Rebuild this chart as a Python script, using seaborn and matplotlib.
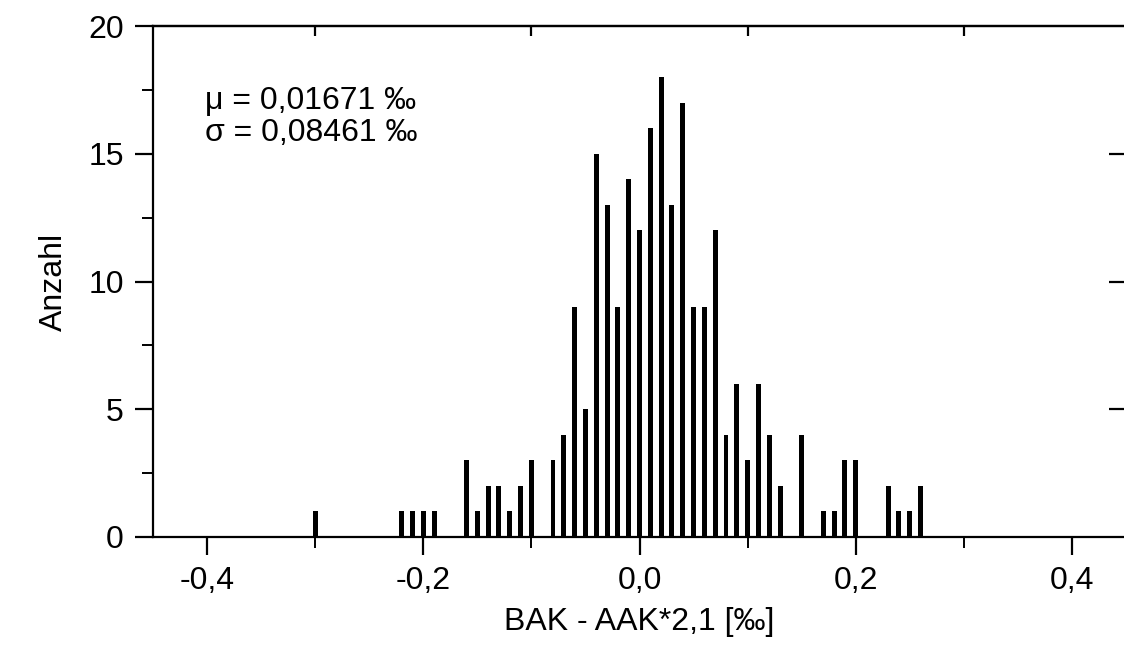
import matplotlib
matplotlib.use("Agg")
import matplotlib.pyplot as plt
import seaborn as sns
import numpy as np

# Bin centres (BAK - AAK*2,1 in ‰) and counts per bin
centers = [-0.30, -0.22, -0.21, -0.20, -0.19, -0.16, -0.15, -0.14, -0.13, -0.12,
           -0.11, -0.10, -0.08, -0.07, -0.06, -0.05, -0.04, -0.03, -0.02, -0.01,
           0.00, 0.01, 0.02, 0.03, 0.04, 0.05, 0.06, 0.07, 0.08, 0.09,
           0.10, 0.11, 0.12, 0.13, 0.15, 0.17, 0.18, 0.19, 0.20, 0.23,
           0.24, 0.25, 0.26]
counts = [1, 1, 1, 1, 1, 3, 1, 2, 2, 1,
          2, 3, 3, 4, 9, 5, 15, 13, 9, 14,
          12, 16, 18, 13, 17, 9, 9, 12, 4, 6,
          3, 6, 4, 2, 4, 1, 1, 3, 3, 2,
          1, 1, 2]

x_ticks = [-0.4, -0.2, 0.0, 0.2, 0.4]
x_ticklabels = ["-0,4", "-0,2", "0,0", "0,2", "0,4"]
y_ticks = [0, 5, 10, 15, 20]
stats_text = ["\u03bc = 0,01671 \u2030", "\u03c3 = 0,08461 \u2030"]

sns.set_style("ticks")
plt.rcParams["font.family"] = ["Liberation Sans", "DejaVu Sans"]
plt.rcParams["axes.linewidth"] = 1.6
for key in ["text.color", "axes.labelcolor", "xtick.color", "ytick.color", "axes.edgecolor"]:
    plt.rcParams[key] = "black"

fs = 23

fig = plt.figure(figsize=(11.24, 6.48), dpi=100)
ax = fig.add_axes([153 / 1124, 1 - 537 / 648, (1126 - 153) / 1124, (537 - 26) / 648])

sns.histplot(x=centers, weights=counts, binwidth=0.01, binrange=(-0.305, 0.265),
             shrink=0.46, color="black", edgecolor="none", alpha=1.0, ax=ax)

ax.set_xlim(-0.45, 0.45)
ax.set_ylim(0, 20)

ax.set_xticks(x_ticks)
ax.set_xticklabels(x_ticklabels)
ax.set_xticks([-0.3, -0.1, 0.1, 0.3], minor=True)
ax.set_yticks(y_ticks)
ax.set_yticks([2.5, 7.5, 12.5, 17.5], minor=True)
ax.tick_params(which="major", direction="out", length=13, width=1.6, labelsize=fs, pad=8)
ax.tick_params(which="minor", direction="out", length=8, width=1.4)

for side in ["top", "right"]:
    ax.spines[side].set_visible(True)

# inward ticks on top and right, like the original
top = ax.secondary_xaxis("top")
top.set_xticks([-0.3, -0.1, 0.1, 0.3])
top.set_xticklabels([])
top.tick_params(direction="in", length=7, width=1.6)
right = ax.secondary_yaxis("right")
right.set_yticks([5, 10, 15])
right.set_yticklabels([])
right.tick_params(direction="in", length=12, width=1.6)

ax.set_xlabel("BAK - AAK*2,1 [\u2030]", fontsize=fs, labelpad=8)
ax.set_ylabel("Anzahl", fontsize=fs, labelpad=14)

ax.text(-0.402, 17.05, stats_text[0], fontsize=fs, va="center", ha="left")
ax.text(-0.402, 15.8, stats_text[1], fontsize=fs, va="center", ha="left")

fig.savefig("out.png", dpi=100)
